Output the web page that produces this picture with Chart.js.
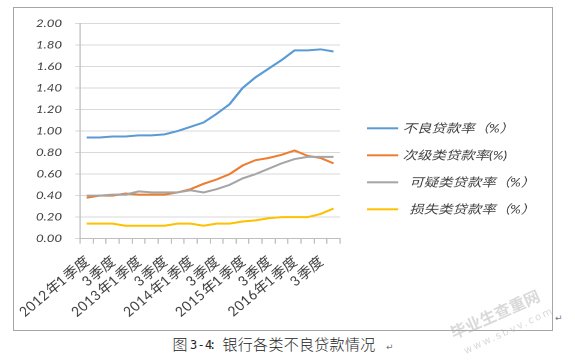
<!DOCTYPE html>
<html><head><meta charset="utf-8">
<script src="https://cdn.jsdelivr.net/npm/chart.js@4.4.0/dist/chart.umd.min.js"></script>
<style>
html,body{margin:0;padding:0;background:#fff;}
body{width:575px;height:363px;position:relative;overflow:hidden;font-family:"Noto Sans CJK SC",sans-serif;}
#frame{position:absolute;left:13px;top:7px;width:538px;height:322px;border:1px solid #a6a6a6;}
#wrap{position:absolute;left:14px;top:8px;width:448px;height:322px;transform:scaleX(1.20089);transform-origin:0 0;}
.cap{position:absolute;top:336px;font-size:15px;line-height:15px;color:#222;white-space:nowrap;font-weight:300;font-family:"Noto Sans CJK SC",sans-serif;}
.num{font-family:"DejaVu Sans Mono",monospace;font-size:12px;letter-spacing:0.3px;}
.rt{position:absolute;font-family:"DejaVu Sans",sans-serif;font-size:9px;color:#777;line-height:10px;}
.wm{position:absolute;white-space:nowrap;color:rgba(170,170,170,0.45);transform-origin:0 0;}
</style></head>
<body>
<div id="frame"></div>
<div id="wrap"><canvas id="c" width="448" height="322"></canvas></div>
<div class="rt" style="left:555px;top:313px;">↵</div>
<div class="cap" style="left:172.5px;">图</div>
<div class="cap num" style="left:190px;top:338px;">3-4</div>
<div class="cap num" style="left:209px;top:338px;">:</div>
<div class="cap" style="left:222.5px;letter-spacing:0.3px;">银行各类不良贷款情况</div>
<div class="rt" style="left:386px;top:342px;">↵</div>
<div class="wm" style="left:446px;top:322px;font-size:16px;font-weight:bold;transform:rotate(-24deg);">毕业生查重网</div>
<div class="wm" style="left:462px;top:346px;font-size:10px;letter-spacing:2px;font-family:'DejaVu Sans';transform:rotate(-25deg);">www.sbvv.com</div>
<script>
const quarters = ['2012年1季度','2季度','3季度','4季度','2013年1季度','2季度','3季度','4季度','2014年1季度','2季度','3季度','4季度','2015年1季度','2季度','3季度','4季度','2016年1季度','2季度','3季度','4季度'];
const nplRate         = [0.94,0.94,0.95,0.95,0.96,0.96,0.97,1.00,1.04,1.08,1.16,1.25,1.40,1.50,1.58,1.66,1.75,1.75,1.76,1.74];
const substandardRate = [0.38,0.40,0.40,0.42,0.41,0.41,0.41,0.43,0.46,0.51,0.55,0.60,0.68,0.73,0.75,0.78,0.82,0.77,0.75,0.70];
const doubtfulRate    = [0.40,0.40,0.41,0.41,0.44,0.43,0.43,0.43,0.45,0.43,0.46,0.50,0.56,0.60,0.65,0.70,0.74,0.76,0.76,0.76];
const lossRate        = [0.14,0.14,0.14,0.12,0.12,0.12,0.12,0.14,0.14,0.12,0.14,0.14,0.16,0.17,0.19,0.20,0.20,0.20,0.23,0.28];
const seriesNames  = ['不良贷款率（%）','次级类贷款率(%)','  可疑类贷款率（%）','  损失类贷款率（%）'];
const seriesColors = ['#5b9bd5','#ed7d31','#a5a5a5','#ffc000'];
const yMin = 0, yMax = 2, yStep = 0.2;

const FONT = 'Lato, "Noto Sans CJK SC", sans-serif';
const seriesValues = [nplRate, substandardRate, doubtfulRate, lossRate];

// legend drawn beside the plot (layout in canvas px)
const sideLegend = {
  id: 'sideLegend',
  afterDraw(chart) {
    const ctx = chart.ctx;
    const x0 = 294, y0 = 120.3, step = 27;
    ctx.save();
    ctx.font = 'italic 12px ' + FONT;
    ctx.textBaseline = 'middle';
    ctx.textAlign = 'left';
    chart.data.datasets.forEach((d, i) => {
      const y = y0 + i * step;
      ctx.fillStyle = d.borderColor;
      ctx.fillRect(x0, y - 1, 26, 2);
      ctx.fillStyle = '#404040';
      ctx.fillText(d.label, x0 + 29.5, y + 0.5);
    });
    ctx.restore();
  }
};

new Chart(document.getElementById('c'), {
  type: 'line',
  data: {
    labels: quarters,
    datasets: seriesValues.map((vals, i) => ({
      label: seriesNames[i],
      data: vals,
      borderColor: seriesColors[i],
      backgroundColor: seriesColors[i],
      borderWidth: 2,
      pointRadius: 0,
      tension: 0,
      order: 4 - i
    }))
  },
  plugins: [sideLegend],
  options: {
    responsive: false,
    animation: false,
    devicePixelRatio: 2,
    layout: { padding: { left: 0, top: 15.5, right: 176.5, bottom: 0 } },
    plugins: {
      tooltip: { enabled: false },
      legend: { display: false }
    },
    scales: {
      x: {
        offset: true,
        grid: { offset: true, drawOnChartArea: false, drawTicks: true, tickLength: 5, color: '#bfbfbf' },
        border: { color: '#bfbfbf' },
        ticks: {
          autoSkip: false, minRotation: 45, maxRotation: 45, padding: 11,
          color: '#404040', font: { family: FONT, size: 13, style: 'italic' },
          callback: (v, i) => (i % 2 === 0 ? quarters[i] : '')
        },
        afterFit: (s) => { s.height = 91.3; s.paddingLeft = 0; s.paddingRight = 0; }
      },
      y: {
        min: yMin, max: yMax,
        grid: { color: '#d9d9d9', drawTicks: true, tickLength: 4 },
        border: { color: '#bfbfbf' },
        ticks: {
          stepSize: yStep, padding: 11, color: '#404040',
          font: { family: FONT, size: 11, style: 'italic' },
          callback: (v) => Number(v).toFixed(2)
        },
        afterFit: (s) => { s.width = 55; s.paddingTop = 0; s.paddingBottom = 0; }
      }
    }
  }
});
</script>
</body></html>
